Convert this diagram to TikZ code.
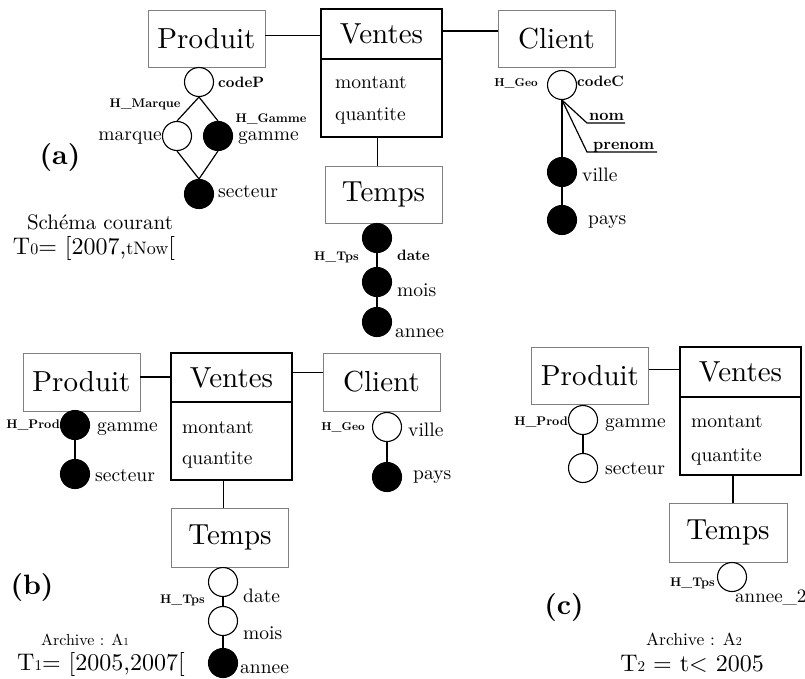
\documentclass[tikz,border=0pt]{standalone}
\usepackage{fontspec}
\setmainfont{lmroman10-regular.otf}[BoldFont=lmroman10-bold.otf]
\newcommand\fs[1]{\fontsize{#1}{#1}\selectfont}
\tikzset{
  dim/.style={draw=black!50, line width=0.9pt, minimum width=117pt, minimum height=57pt, inner sep=0pt, font=\fs{29}},
  facthead/.style={draw=black, line width=1.3pt, minimum width=121pt, minimum height=50pt, inner sep=0pt, font=\fs{29}},
  factbody/.style={draw=black, line width=1.3pt, minimum width=121pt, minimum height=78pt, inner sep=0pt},
  lev/.style={circle, draw=black, line width=1.1pt, minimum size=29pt, inner sep=0pt, fill=white},
  levf/.style={lev, fill=black},
  conn/.style={line width=1.2pt},
  lab/.style={font=\fs{19.5}, inner sep=0pt},
  blab/.style={font=\fs{15}\bfseries, inner sep=0pt},
  hlab/.style={font=\fs{12.5}\bfseries, inner sep=0pt},
  tag/.style={font=\fs{28}\bfseries, inner sep=0pt},
  period/.style={font=\fs{24}, inner sep=0pt, anchor=base},
  arch/.style={font=\fs{16}, inner sep=0pt, anchor=base},
}
\begin{document}
\begin{tikzpicture}[x=1pt,y=-1pt]
\useasboundingbox (0,0) rectangle (805,679);

% ---------------- (a) current schema ----------------
\node[dim] (pA) at (206.5,38.5) {Produit};
\node[facthead] (vAh) at (381.5,34) {Ventes};
\node[factbody] (vAb) at (381.5,98) {};
\node[lab, anchor=base west] (vAm) at (335,89) {montant};
\node[lab, anchor=base west] (vAq) at (335,121) {quantite};
\node[dim] (cA) at (556.5,39) {Client};
\node[dim] (tA) at (383.5,194.5) {Temps};

\draw[conn] ([yshift=3pt]pA.east) -- ([yshift=3pt]pA.east -| vAh.west);
\draw[conn] ([yshift=3pt]vAh.east) -- ([yshift=3pt]vAh.east -| cA.west);
\draw[conn] ([xshift=-4pt]vAb.south) -- ([xshift=-4pt]vAb.south |- tA.north);

% product hierarchy
\node[lev] (codeP) at (199,82) {};
\node[lev] (marque) at (177,136) {};
\node[levf] (gammeA) at (218,136) {};
\node[levf] (secteurA) at (199,194) {};
\draw[conn] (codeP.south) -- (marque.north);
\draw[conn] (codeP.south) -- (gammeA.north);
\draw[conn] (marque.south) -- (secteurA.north);
\draw[conn] (gammeA.south) -- (secteurA.north);
\node[blab, anchor=base west] (codePl) at (218,88) {codeP};
\node[hlab, anchor=base] (hmarque) at (145,108) {H\_Marque};
\node[lab, anchor=base east] (marquel) at (162,141) {marque};
\node[lab, anchor=base west] (gammeAl) at (238,141) {gamme};
\node[hlab, anchor=base] (hgamme) at (271,123) {H\_Gamme};
\node[lab, anchor=base west] (secteurAl) at (218,197) {secteur};

% time hierarchy
\node[levf] (dateA) at (377,238) {};
\node[levf] (moisA) at (377,282) {};
\node[levf] (anneeA) at (377,322) {};
\draw[conn] (dateA.south) -- (moisA.north);
\draw[conn] (moisA.south) -- (anneeA.north);
\node[hlab, anchor=base east] (htpsA) at (359,260) {H\_Tps};
\node[blab, anchor=base west] (dateAl) at (397,260) {date};
\node[lab, anchor=base west] (moisAl) at (397,296) {mois};
\node[lab, anchor=base west] (anneeAl) at (395,337) {annee};

% client hierarchy
\node[lev] (codeC) at (562,85) {};
\node[levf] (villeA) at (562,172) {};
\node[levf] (paysA) at (562,220) {};
\coordinate (nomS) at (587,123);
\coordinate (nomE) at (625,123);
\coordinate (preS) at (587,152);
\coordinate (preE) at (657,152);
\draw[conn] (codeC.south) -- (nomS) -- (nomE);
\draw[conn] (codeC.south) -- (preS) -- (preE);
\draw[conn] (codeC.south) -- (villeA.north);
\draw[conn] (villeA.south) -- (paysA.north);
\node[hlab, font=\fs{11.5}\bfseries, anchor=base east] (hgeoA) at (538,87) {H\_Geo};
\node[blab, anchor=base west] (codeCl) at (577,87) {codeC};
\node[blab, font=\fs{16}\bfseries, anchor=base west] (noml) at (589,121) {nom};
\node[blab, font=\fs{16}\bfseries, anchor=base west] (prenoml) at (593,150) {prenom};
\node[lab, anchor=base west] (villeAl) at (582,182) {ville};
\node[lab, anchor=base west] (paysAl) at (588,224) {pays};

\node[tag] (tagA) at (60,157) {(a)};
\node[font=\fs{21}, inner sep=0pt, anchor=base] (courant) at (100,229) {Schéma courant};
\node[period] (T0) at (94,254) {T{\fs{16}0}= [2007,{\fs{18}tNow}[};

% ---------------- (b) archive A1 ----------------
\node[dim, minimum height=58pt] (pB) at (81.5,382) {Produit};
\node[facthead, minimum height=49pt] (vBh) at (231.5,377.5) {Ventes};
\node[factbody] (vBb) at (231.5,441) {};
\node[lab, anchor=base west] (vBm) at (182,433) {montant};
\node[lab, anchor=base west] (vBq) at (182,464) {quantite};
\node[dim, minimum height=58pt] (cB) at (381.5,382) {Client};
\node[dim, minimum height=59pt] (tB) at (230,537.5) {Temps};

\draw[conn] ([yshift=5pt]pB.east) -- ([yshift=5pt]pB.east -| vBh.west);
\draw[conn] ([yshift=5pt]vBh.east) -- ([yshift=5pt]vBh.east -| cB.west);
\draw[conn] ([xshift=-8pt]vBb.south) -- ([xshift=-8pt]vBb.south |- tB.north);

\node[levf] (gammeB) at (75,425) {};
\node[levf] (secteurB) at (75,474) {};
\draw[conn] (gammeB.south) -- (secteurB.north);
\node[hlab, anchor=base east] (hprodB) at (60,428) {H\_Prod};
\node[lab, anchor=base west] (gammeBl) at (97,431) {gamme};
\node[lab, anchor=base west] (secteurBl) at (95,481) {secteur};

\node[lev] (villeB) at (387,427) {};
\node[levf] (paysB) at (387,477) {};
\draw[conn] (villeB.south) -- (paysB.north);
\node[hlab, font=\fs{11.5}\bfseries, anchor=base east] (hgeoB) at (365,430) {H\_Geo};
\node[lab, anchor=base west] (villeBl) at (408,436) {ville};
\node[lab, anchor=base west] (paysBl) at (413,479) {pays};

\node[lev] (dateB) at (223,582) {};
\node[lev] (moisB) at (223,621) {};
\node[levf] (anneeB) at (223,663) {};
\draw[conn] (dateB.south) -- (moisB.north);
\draw[conn] (moisB.south) -- (anneeB.north);
\node[hlab, anchor=base east] (htpsB) at (205,603) {H\_Tps};
\node[lab, anchor=base west] (dateBl) at (243,602) {date};
\node[lab, anchor=base west] (moisBl) at (243,639) {mois};
\node[lab, anchor=base west] (anneeBl) at (240,673) {annee};

\node[tag] (tagB) at (32,587) {(b)};
\node[arch] (archA1) at (85,645) {Archive : A{\fs{11}1}};
\node[period] (T1) at (101,670) {T{\fs{15}1}= [2005,2007[};

% ---------------- (c) archive A2 ----------------
\node[dim] (pC) at (590,375.5) {Produit};
\node[facthead] (vCh) at (740.5,372) {Ventes};
\node[factbody] (vCb) at (740.5,436) {};
\node[lab, anchor=base west] (vCm) at (691,427) {montant};
\node[lab, anchor=base west] (vCq) at (691,461) {quantite};
\node[dim, minimum width=118pt, minimum height=59pt] (tC) at (728,532.5) {Temps};

\draw[conn] ([yshift=6pt]pC.east) -- ([yshift=6pt]pC.east -| vCh.west);
\draw[conn] ([xshift=-7.5pt]vCb.south) -- ([xshift=-7.5pt]vCb.south |- tC.north);

\node[lev] (gammeC) at (583,420) {};
\node[lev] (secteurC) at (583,468) {};
\draw[conn] (gammeC.south) -- (secteurC.north);
\node[hlab, anchor=base east] (hprodC) at (568,425) {H\_Prod};
\node[lab, anchor=base west] (gammeCl) at (605,427) {gamme};
\node[lab, anchor=base west] (secteurCl) at (605,474) {secteur};

\node[lev] (anneeC) at (732,577) {};
\node[hlab, anchor=base east] (htpsC) at (715,586) {H\_Tps};
\node[lab, font=\fs{19}, anchor=base west] (anneeCl) at (735,602) {annee\_2};

\node[tag] (tagC) at (564,607) {(c)};
\node[arch, font=\fs{17.5}] (archA2) at (694,645) {Archive : A{\fs{12}2}};
\node[period] (T2) at (692,671) {T{\fs{15}2} = t< 2005};
\end{tikzpicture}
\end{document}
